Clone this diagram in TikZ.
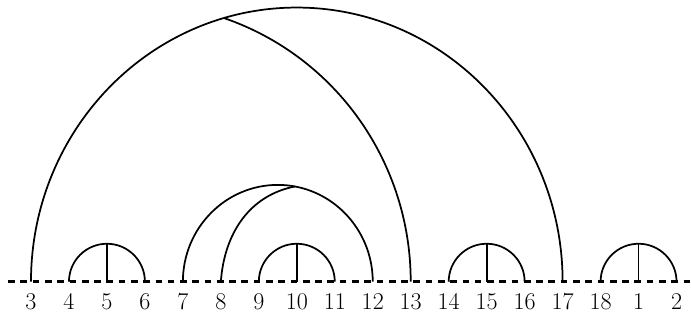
\documentclass[tikz,border=0pt]{standalone}
\usepackage{tikz}
\usetikzlibrary{calc}

\begin{document}
\begin{tikzpicture}[line width=1.3pt, every node/.style={font=\fontsize{18}{20}\selectfont, inner sep=0pt}]
  \useasboundingbox (-0.816,-1.011) rectangle (17.381,7.419);
  % baseline
  \draw[line width=1.9pt, dash pattern=on 5pt off 4.2pt] (-0.6,0) -- (17.36,0);
  % points on the line
  \coordinate (p3) at (0,0);
  \coordinate (p4) at (1,0);
  \coordinate (p5) at (2,0);
  \coordinate (p6) at (3,0);
  \coordinate (p7) at (4,0);
  \coordinate (p8) at (5,0);
  \coordinate (p9) at (6,0);
  \coordinate (p10) at (7,0);
  \coordinate (p11) at (8,0);
  \coordinate (p12) at (9,0);
  \coordinate (p13) at (10,0);
  \coordinate (p14) at (11,0);
  \coordinate (p15) at (12,0);
  \coordinate (p16) at (13,0);
  \coordinate (p17) at (14,0);
  \coordinate (p18) at (15,0);
  \coordinate (p1) at (16,0);
  \coordinate (p2) at (17,0);
  % labels
  \node (l3) at (0,-0.527) {3};
  \node (l4) at (1,-0.527) {4};
  \node (l5) at (2,-0.527) {5};
  \node (l6) at (3,-0.527) {6};
  \node (l7) at (4,-0.527) {7};
  \node (l8) at (5,-0.527) {8};
  \node (l9) at (6,-0.527) {9};
  \node (l10) at (7,-0.527) {10};
  \node (l11) at (8,-0.527) {11};
  \node (l12) at (9,-0.527) {12};
  \node (l13) at (10,-0.527) {13};
  \node (l14) at (11,-0.527) {14};
  \node (l15) at (12,-0.527) {15};
  \node (l16) at (13,-0.527) {16};
  \node (l17) at (14,-0.527) {17};
  \node (l18) at (15,-0.527) {18};
  \node (l1) at (16,-0.527) {1};
  \node (l2) at (17,-0.527) {2};
  % small arcs with stems
  \draw (p4) arc[start angle=180, end angle=0, radius=1];
  \draw (p5) -- ++(0,1);
  \draw (p9) arc[start angle=180, end angle=0, radius=1];
  \draw (p10) -- ++(0,1);
  \draw (p14) arc[start angle=180, end angle=0, radius=1];
  \draw (p15) -- ++(0,1);
  \draw (p18) arc[start angle=180, end angle=0, radius=1];
  \draw (p1) -- ++(0,1);
  % middle arc and branch
  \draw (p7) arc[start angle=180, end angle=0, x radius=2.5, y radius=2.55];
  \coordinate (j2) at ($(p7)+(2.5,0)+(79.6:2.5 and 2.55)$);
  \draw (p8) to[out=86, in=191] (j2);
  % big arc and branch
  \draw (p3) arc[start angle=180, end angle=0, x radius=7, y radius=7.22];
  \coordinate (j1) at ($(p3)+(7,0)+(105.9:7 and 7.22)$);
  \draw (p13) to[out=90, in=-19, looseness=0.94] (j1);
\end{tikzpicture}
\end{document}
